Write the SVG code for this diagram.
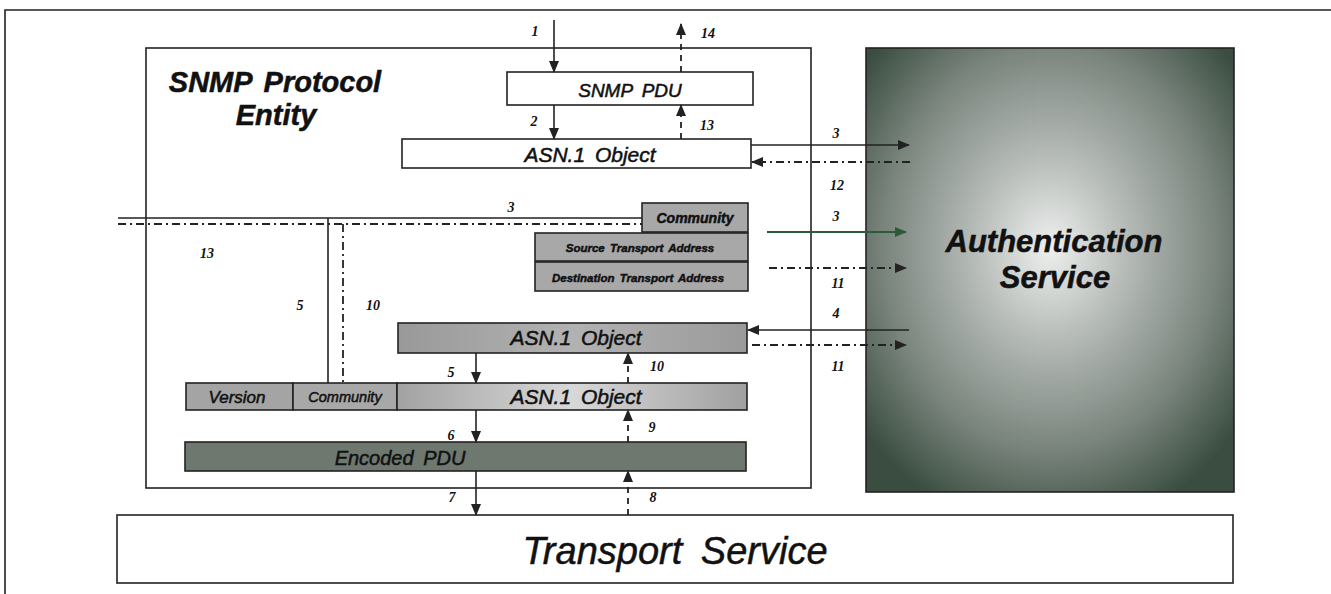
<svg xmlns="http://www.w3.org/2000/svg" width="1331" height="594" viewBox="0 0 1331 594">
<defs>
<radialGradient id="authGrad" cx="0.5" cy="0.45" r="0.65">
<stop offset="0" stop-color="#eef0ee"/>
<stop offset="0.3" stop-color="#b9bebb"/>
<stop offset="0.7" stop-color="#79847c"/>
<stop offset="1" stop-color="#3a4d40"/>
</radialGradient>
<linearGradient id="asnGrad" x1="0" y1="0" x2="1" y2="0">
<stop offset="0" stop-color="#a2a2a2"/>
<stop offset="0.5" stop-color="#d8d8d8"/>
<stop offset="1" stop-color="#a0a0a0"/>
</linearGradient>
<linearGradient id="asnMidGrad" x1="0" y1="0" x2="1" y2="0">
<stop offset="0" stop-color="#999"/>
<stop offset="0.5" stop-color="#b2b2b2"/>
<stop offset="1" stop-color="#9a9a9a"/>
</linearGradient>
<marker id="ah" viewBox="0 0 12 10" refX="11" refY="5" markerWidth="12" markerHeight="10" markerUnits="userSpaceOnUse" orient="auto">
<path d="M0,0 L12,5 L0,10 Z" fill="#222"/>
</marker>
<marker id="ahg" viewBox="0 0 12 10" refX="11" refY="5" markerWidth="12" markerHeight="10" markerUnits="userSpaceOnUse" orient="auto">
<path d="M0,0 L12,5 L0,10 Z" fill="#2d5a38"/>
</marker>
</defs>
<style>
.box{stroke:#222;stroke-width:1.6}
.ln{stroke:#222;stroke-width:1.6;fill:none}
.dd{stroke:#222;stroke-width:1.8;fill:none;stroke-dasharray:8 4 2 4}
.dv{stroke:#222;stroke-width:1.8;fill:none;stroke-dasharray:6 5}
.num{font-family:"Liberation Serif",serif;font-weight:bold;font-style:italic;font-size:14px;fill:#111;text-anchor:middle}
.lbl{font-family:"Liberation Sans",Arial,sans-serif;font-style:italic;fill:#111;text-anchor:middle;stroke:#111;stroke-width:0.5;word-spacing:4px}
</style>
<rect width="1331" height="594" fill="#ffffff"/>
<g id="frame">
<path class="ln" d="M5,594 L5,10 L1331,10"/>
</g>
<g id="snmp-entity">
<rect class="box" x="146" y="48" width="665" height="440" fill="#fff"/>
<text class="lbl" x="275" y="92" font-size="29" font-weight="bold">SNMP Protocol</text>
<text class="lbl" x="276" y="125" font-size="29" font-weight="bold">Entity</text>
</g>
<g id="auth-service">
<rect class="box" x="866" y="48" width="368" height="444" fill="url(#authGrad)"/>
<text class="lbl" x="1054" y="252" font-size="31" font-weight="bold">Authentication</text>
<text class="lbl" x="1055" y="288" font-size="31" font-weight="bold">Service</text>
</g>
<g id="transport-service">
<rect class="box" x="117" y="515" width="1116" height="68" fill="#fff"/>
<text class="lbl" x="675" y="564" font-size="38" style="word-spacing:8px">Transport Service</text>
</g>
<g id="snmp-pdu">
<rect class="box" x="507" y="72" width="246" height="33" fill="#fff"/>
<text class="lbl" x="630" y="97" font-size="19">SNMP PDU</text>
</g>
<g id="asn-top">
<rect class="box" x="402" y="139" width="349" height="29" fill="#fff"/>
<text class="lbl" x="590" y="162" font-size="21">ASN.1 Object</text>
</g>
<g id="community-top">
<rect class="box" x="642" y="203" width="106" height="29" fill="#a8a8a8"/>
<text class="lbl" x="695" y="223" font-size="14" font-weight="bold" stroke-width="0.2">Community</text>
</g>
<g id="source-addr">
<rect class="box" x="535" y="233" width="213" height="28" fill="#a8a8a8"/>
<text class="lbl" x="640" y="252" font-size="11.5" font-weight="bold" stroke-width="0.1" style="word-spacing:2px">Source Transport Address</text>
</g>
<g id="dest-addr">
<rect class="box" x="535" y="262" width="213" height="29" fill="#a8a8a8"/>
<text class="lbl" x="638" y="282" font-size="11.5" font-weight="bold" stroke-width="0.1" style="word-spacing:2px">Destination Transport Address</text>
</g>
<g id="asn-mid">
<rect class="box" x="398" y="323" width="349" height="30" fill="url(#asnMidGrad)"/>
<text class="lbl" x="576" y="345" font-size="21">ASN.1 Object</text>
</g>
<g id="version">
<rect class="box" x="186" y="383" width="107" height="27" fill="#a4a4a4"/>
<text class="lbl" x="237" y="403" font-size="17">Version</text>
</g>
<g id="community-bottom">
<rect class="box" x="293" y="383" width="104" height="27" fill="#a8a8a8"/>
<text class="lbl" x="345" y="402" font-size="14.5">Community</text>
</g>
<g id="asn-bottom">
<rect class="box" x="397" y="383" width="350" height="27" fill="url(#asnGrad)"/>
<text class="lbl" x="576" y="404" font-size="21">ASN.1 Object</text>
</g>
<g id="encoded-pdu">
<rect class="box" x="185" y="442" width="561" height="29" fill="#6e786f"/>
<text class="lbl" x="400" y="465" font-size="20" fill="#444c46" stroke="#444c46">Encoded PDU</text>
</g>
<g id="connectors">
<line class="ln" x1="554" y1="20" x2="554" y2="72" marker-end="url(#ah)"/>
<line class="dv" x1="681" y1="72" x2="681" y2="24" marker-end="url(#ah)"/>
<line class="ln" x1="554" y1="105" x2="554" y2="139" marker-end="url(#ah)"/>
<line class="dv" x1="681" y1="139" x2="681" y2="105" marker-end="url(#ah)"/>
<line class="ln" x1="751" y1="145" x2="909" y2="145" marker-end="url(#ah)"/>
<line class="dd" x1="910" y1="162" x2="752" y2="162" marker-end="url(#ah)"/>
<line x1="767" y1="232" x2="906" y2="232" stroke="#2d5a38" stroke-width="1.8" marker-end="url(#ahg)"/>
<line class="dd" x1="769" y1="268" x2="906" y2="268" marker-end="url(#ah)"/>
<line class="ln" x1="909" y1="330" x2="748" y2="330" marker-end="url(#ah)"/>
<line class="dd" x1="752" y1="345" x2="906" y2="345" marker-end="url(#ah)"/>
<line class="ln" x1="118" y1="218" x2="642" y2="218"/>
<line class="dd" x1="118" y1="224" x2="642" y2="224"/>
<line class="ln" x1="328" y1="218" x2="328" y2="383"/>
<line class="dd" x1="343" y1="224" x2="343" y2="383"/>
<line class="ln" x1="476" y1="353" x2="476" y2="383" marker-end="url(#ah)"/>
<line class="dv" x1="628" y1="383" x2="628" y2="353" marker-end="url(#ah)"/>
<line class="ln" x1="476" y1="410" x2="476" y2="442" marker-end="url(#ah)"/>
<line class="dv" x1="628" y1="442" x2="628" y2="410" marker-end="url(#ah)"/>
<line class="ln" x1="476" y1="471" x2="476" y2="515" marker-end="url(#ah)"/>
<line class="dv" x1="628" y1="515" x2="628" y2="471" marker-end="url(#ah)"/>
<text class="num" x="535" y="36">1</text>
<text class="num" x="708" y="38">14</text>
<text class="num" x="534" y="126">2</text>
<text class="num" x="707" y="130">13</text>
<text class="num" x="836" y="138">3</text>
<text class="num" x="837" y="190">12</text>
<text class="num" x="511" y="212">3</text>
<text class="num" x="836" y="221">3</text>
<text class="num" x="838" y="288">11</text>
<text class="num" x="836" y="318">4</text>
<text class="num" x="838" y="371">11</text>
<text class="num" x="207" y="258">13</text>
<text class="num" x="300" y="310">5</text>
<text class="num" x="373" y="310">10</text>
<text class="num" x="451" y="377">5</text>
<text class="num" x="657" y="371">10</text>
<text class="num" x="451" y="440">6</text>
<text class="num" x="652" y="432">9</text>
<text class="num" x="452" y="502">7</text>
<text class="num" x="653" y="502">8</text>
</g>
</svg>
